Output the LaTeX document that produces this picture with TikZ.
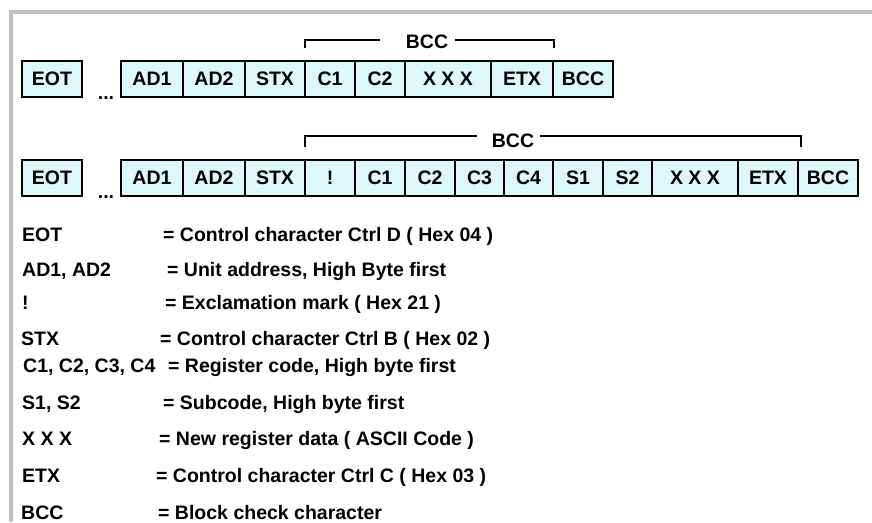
\documentclass[tikz,border=0pt]{standalone}
\usepackage{fontspec}
\setmainfont{Liberation Sans}
\usetikzlibrary{positioning}

\definecolor{cellfill}{RGB}{221,248,248}
\definecolor{framegray}{RGB}{192,192,192}

\begin{document}
\begin{tikzpicture}[
    x=1pt, y=-1pt,
    cell/.style={draw, fill=cellfill, line width=1.8pt, inner sep=0pt,
                 minimum height=36pt, font=\fontsize{19.5}{23}\selectfont\bfseries},
    bcclbl/.style={inner sep=0pt, font=\fontsize{19.5}{23}\selectfont\bfseries},
    legend/.style={inner sep=0pt, anchor=base west, font=\fontsize{19.5}{23}\selectfont\bfseries},
    brace/.style={line width=1.1pt}
]
\useasboundingbox (0,0) rectangle (872,522);
% frame
\fill[framegray] (9,10) rectangle (872,14);
\fill[framegray] (9,10) rectangle (13,522);

% first telegram
\node[cell, minimum width=60pt] (eot1) at (52,79)  {EOT};
\node[bcclbl, anchor=base] (dots1) at (106,99) {...};
\node[cell, minimum width=62pt] (ad11) at (152,79) {AD1};
\node[cell, minimum width=62pt] (ad21) at (214,79) {AD2};
\node[cell, minimum width=60pt] (stx1) at (275,79) {STX};
\node[cell, minimum width=50pt] (c11)  at (330,79) {C1};
\node[cell, minimum width=50pt] (c21)  at (380,79) {C2};
\node[cell, minimum width=86pt] (xxx1) at (448,79) {X X X};
\node[cell, minimum width=62pt] (etx1) at (522,79) {ETX};
\node[cell, minimum width=60pt] (bcc1) at (583,79) {BCC};

\node[bcclbl] (bcclbl1) at (427,42) {BCC};
\coordinate (t1l) at (305,48);
\coordinate (h1l) at (380,40);
\coordinate (t1r) at (554,48);
\coordinate (h1r) at (455,40);
\draw[brace] (t1l) |- (h1l);
\draw[brace] (t1r) |- (h1r);

% second telegram
\node[cell, minimum width=60pt] (eot2)  at (52,178)    {EOT};
\node[bcclbl, anchor=base] (dots2) at (106,198) {...};
\node[cell, minimum width=62pt] (ad12)  at (152,178)   {AD1};
\node[cell, minimum width=62pt] (ad22)  at (214,178)   {AD2};
\node[cell, minimum width=60pt] (stx2)  at (275,178)   {STX};
\node[cell, minimum width=50pt] (excl2) at (330,178)   {!};
\node[cell, minimum width=50pt] (c12)   at (380,178)   {C1};
\node[cell, minimum width=50pt] (c22)   at (430,178)   {C2};
\node[cell, minimum width=49pt] (c32)   at (479.5,178) {C3};
\node[cell, minimum width=49pt] (c42)   at (528.5,178) {C4};
\node[cell, minimum width=50pt] (s12)   at (578,178)   {S1};
\node[cell, minimum width=49pt] (s22)   at (627.5,178) {S2};
\node[cell, minimum width=86pt] (xxx2)  at (695,178)   {X X X};
\node[cell, minimum width=60pt] (etx2)  at (768,178)   {ETX};
\node[cell, minimum width=60pt] (bcc2)  at (828,178)   {BCC};

\node[bcclbl] (bcclbl2) at (513,141) {BCC};
\coordinate (t2l) at (305,147);
\coordinate (h2l) at (477,136);
\coordinate (t2r) at (801,147);
\coordinate (h2r) at (540,136);
\draw[brace] (t2l) |- (h2l);
\draw[brace] (t2r) |- (h2r);

% legend
\node[legend] (k1) at (22,241) {EOT};
\node[legend] (v1) at (163,241) {= Control character Ctrl D ( Hex 04 )};
\node[legend] (k2) at (22,276) {AD1, AD2};
\node[legend] (v2) at (167,276) {= Unit address, High Byte first};
\node[legend] (k3) at (22,309) {!};
\node[legend] (v3) at (165,309) {= Exclamation mark ( Hex 21 )};
\node[legend] (k4) at (21,345) {STX};
\node[legend] (v4) at (160,345) {= Control character Ctrl B ( Hex 02 )};
\node[legend] (k5) at (23,372) {C1, C2, C3, C4};
\node[legend] (v5) at (168,372) {= Register code, High byte first};
\node[legend] (k6) at (22,409) {S1, S2};
\node[legend] (v6) at (163,409) {= Subcode, High byte first};
\node[legend] (k7) at (22,445) {X X X};
\node[legend] (v7) at (159,445) {= New register data ( ASCII Code )};
\node[legend] (k8) at (22,482) {ETX};
\node[legend] (v8) at (156,482) {= Control character Ctrl C ( Hex 03 )};
\node[legend] (k9) at (21,519) {BCC};
\node[legend] (v9) at (158,519) {= Block check character};
\end{tikzpicture}
\end{document}
